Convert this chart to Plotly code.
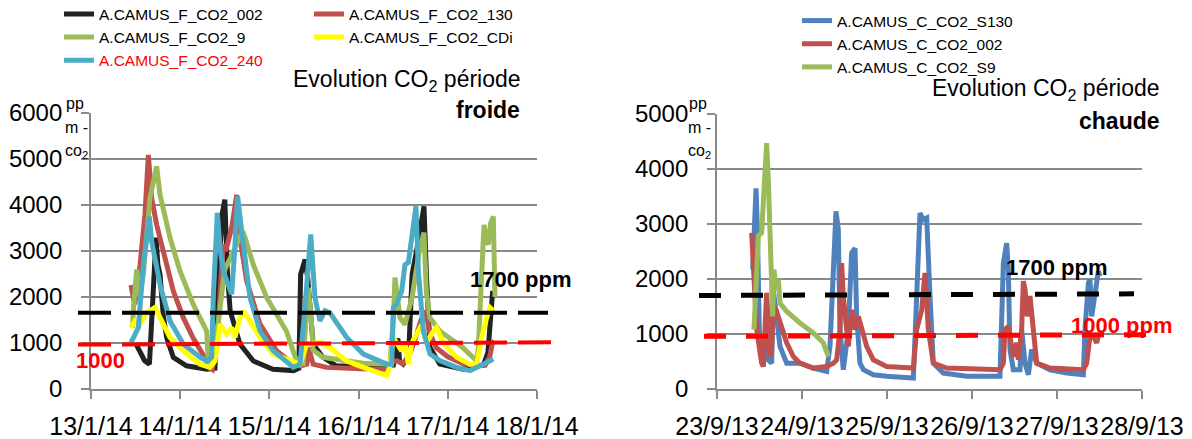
import plotly.graph_objects as go

W, H = 1192, 439
FONT = "Liberation Sans, Arial, sans-serif"
GRID = "#898989"

# ---------------- Cold period (x = days since 13/1/14) ----------------
cold_ticklabels = ["13/1/14", "14/1/14", "15/1/14", "16/1/14", "17/1/14", "18/1/14"]
cold_y_ticks = [0, 1000, 2000, 3000, 4000, 5000, 6000]

f002_t = [0.505, 0.55, 0.60, 0.655, 0.68, 0.705, 0.729, 0.75, 0.774, 0.81, 0.848, 0.923, 1.07, 1.30,
          1.39, 1.43, 1.47, 1.50, 1.53, 1.56, 1.60, 1.67, 1.82, 2.04, 2.27, 2.33, 2.35, 2.38, 2.40,
          2.43, 2.49, 2.60, 2.75, 2.87, 3.05, 3.30, 3.39, 3.42, 3.44, 3.46, 3.50, 3.56, 3.60, 3.65,
          3.70, 3.733, 3.76, 3.80, 3.91, 4.17, 4.32, 4.40, 4.45, 4.48, 4.503, 4.51]
f002_v = [975, 800, 620, 540, 1500, 2900, 3290, 2700, 2490, 1600, 1120, 690, 505, 430,
          450, 2500, 3800, 4115, 2500, 1700, 1400, 975, 610, 430, 400, 450, 2490, 2700, 2815,
          2400, 975, 690, 505, 500, 500, 500, 520, 900, 1100, 600, 540, 700, 2500, 3000,
          3600, 3970, 2500, 900, 540, 430, 505, 520, 800, 1600, 2130, 2000]

f130_t = [0.448, 0.49, 0.55, 0.605, 0.643, 0.68, 0.736, 0.811, 0.923, 1.035, 1.147, 1.297, 1.33,
          1.36, 1.43, 1.47, 1.484, 1.51, 1.577, 1.633, 1.67, 1.745, 1.895, 2.08, 2.268, 2.343,
          2.42, 2.44, 2.49, 2.64, 2.87, 3.02, 3.30, 3.39, 3.43, 3.50, 3.58, 3.62, 3.70, 3.75,
          3.80, 3.87, 4.0, 4.17, 4.32, 4.42, 4.47, 4.50, 4.52]
f130_v = [2260, 1840, 2700, 3800, 5090, 4150, 3570, 3000, 2130, 1550, 1100, 610, 450,
          420, 1500, 2800, 3140, 3000, 3500, 4220, 3290, 2350, 1410, 830, 540, 500,
          540, 900, 540, 470, 440, 440, 430, 600, 610, 550, 800, 1000, 1500, 1700,
          1200, 900, 700, 550, 500, 520, 700, 1000, 1050]

f9_t = [0.466, 0.474, 0.512, 0.549, 0.587, 0.661, 0.736, 0.774, 0.886, 0.998, 1.147, 1.297, 1.315,
        1.36, 1.43, 1.50, 1.60, 1.70, 1.726, 1.82, 1.97, 2.19, 2.306, 2.38, 2.418, 2.436, 2.47,
        2.49, 2.60, 2.87, 3.05, 3.35, 3.389, 3.408, 3.44, 3.464, 3.52, 3.60, 3.68, 3.733, 3.76,
        3.80, 3.91, 4.17, 4.324, 4.342, 4.38, 4.406, 4.436, 4.454, 4.48, 4.51, 4.529]
f9_v = [1335, 1700, 2600, 2000, 2500, 4150, 4840, 4220, 3285, 2560, 1840, 1260, 610,
        560, 1500, 2600, 3000, 3430, 3300, 2700, 1985, 1260, 600, 560, 1800, 2200, 1500,
        850, 690, 620, 560, 540, 1500, 2420, 1800, 1550, 1400, 2000, 3000, 3400, 2100,
        1550, 1260, 900, 610, 900, 2500, 3570, 3200, 3140, 3600, 3750, 2000]

fcdi_t = [0.448, 0.493, 0.549, 0.624, 0.717, 0.774, 0.886, 1.035, 1.222, 1.334, 1.39, 1.446, 1.521,
          1.577, 1.614, 1.67, 1.708, 1.745, 1.82, 1.895, 2.044, 2.268, 2.343, 2.418, 2.567, 2.679,
          2.866, 3.053, 3.315, 3.352, 3.389, 3.427, 3.483, 3.52, 3.558, 3.595, 3.67, 3.707, 3.763,
          3.819, 3.875, 3.95, 4.099, 4.249, 4.324, 4.38, 4.436, 4.473, 4.51]
fcdi_v = [1335, 1480, 1410, 1660, 1770, 1550, 1120, 830, 540, 470, 610, 1410, 1190,
          1335, 1120, 1550, 1700, 1590, 1335, 1120, 760, 580, 540, 975, 1010, 900,
          610, 470, 290, 500, 1120, 1000, 830, 1000, 540, 1000, 1260, 1400, 1000,
          1200, 1335, 1000, 690, 540, 540, 1120, 1550, 1770, 1700]

f240_t = [0.448, 0.531, 0.587, 0.654, 0.68, 0.774, 0.886, 1.035, 1.222, 1.297, 1.353, 1.371, 1.416,
          1.45, 1.484, 1.577, 1.61, 1.644, 1.689, 1.783, 1.895, 2.044, 2.268, 2.343, 2.40, 2.436,
          2.463, 2.511, 2.567, 2.623, 2.68, 2.866, 3.053, 3.315, 3.371, 3.389, 3.427, 3.483, 3.52,
          3.558, 3.60, 3.643, 3.67, 3.726, 3.80, 3.91, 4.099, 4.249, 4.398, 4.51]
f240_v = [1010, 1335, 2700, 3750, 3210, 2270, 1480, 975, 690, 610, 690, 2000, 3830,
          3000, 2560, 2060, 3000, 4190, 3430, 1985, 1260, 830, 470, 540, 1800, 2780,
          3360, 1985, 1480, 1700, 1650, 1120, 760, 540, 540, 1770, 1850, 2130, 2700,
          2750, 3400, 3970, 2560, 1260, 760, 620, 470, 400, 540, 650]

# ---------------- Warm period (x = days since 23/9/13) ----------------
warm_ticklabels = ["23/9/13", "24/9/13", "25/9/13", "26/9/13", "27/9/13", "28/9/13"]
warm_y_ticks = [0, 1000, 2000, 3000, 4000, 5000]

cs130_t = [0.420, 0.459, 0.475, 0.498, 0.545, 0.584, 0.604, 0.643, 0.663, 0.702, 0.741, 0.820,
           0.898, 0.976, 1.133, 1.290, 1.329, 1.369, 1.400, 1.427, 1.447, 1.486, 1.545, 1.584,
           1.624, 1.643, 1.682, 1.722, 1.839, 1.996, 2.310, 2.349, 2.388, 2.427, 2.467, 2.506,
           2.545, 2.663, 2.937, 3.329, 3.369, 3.408, 3.427, 3.447, 3.486, 3.565, 3.584, 3.624,
           3.663, 3.702, 3.761, 3.918, 4.114, 4.310, 4.329, 4.369, 4.388, 4.408, 4.447, 4.486, 4.506]
cs130_v = [2170, 3650, 2900, 1080, 410, 1080, 530, 470, 1800, 1320, 775, 470,
           470, 470, 380, 320, 775, 2290, 3230, 2900, 1080, 350, 1080, 2470,
           2560, 1320, 470, 350, 260, 230, 200, 1680, 3200, 3080, 3110, 1680,
           470, 290, 230, 230, 2290, 2650, 2170, 715, 350, 350, 1080, 470,
           260, 715, 470, 350, 290, 260, 1080, 1930, 1990, 1320, 1810, 2140, 2050]

c002_t = [0.408, 0.427, 0.467, 0.525, 0.545, 0.584, 0.604, 0.623, 0.643, 0.663, 0.694, 0.741,
          0.820, 0.898, 0.976, 1.133, 1.290, 1.369, 1.408, 1.447, 1.466, 1.486, 1.525, 1.545,
          1.584, 1.624, 1.663, 1.702, 1.761, 1.839, 1.996, 2.310, 2.349, 2.408, 2.447, 2.486,
          2.545, 2.702, 3.329, 3.369, 3.388, 3.427, 3.486, 3.525, 3.545, 3.584, 3.604, 3.624,
          3.651, 3.682, 3.761, 3.918, 4.310, 4.349, 4.388, 4.427, 4.467, 4.486]
c002_v = [2840, 2170, 1080, 470, 410, 1750, 1080, 590, 775, 1500, 1440, 1200,
          840, 590, 470, 380, 410, 470, 530, 1080, 2290, 1680, 960, 775,
          1440, 1080, 1320, 1080, 775, 530, 410, 380, 1080, 1440, 2110, 1080,
          470, 380, 350, 470, 1080, 1140, 590, 840, 530, 1080, 1960, 1810,
          1320, 1690, 470, 380, 350, 470, 960, 960, 840, 960]

cs9_t = [0.435, 0.486, 0.525, 0.565, 0.584, 0.604, 0.631, 0.655, 0.671, 0.694, 0.722, 0.741,
         0.820, 0.976, 1.133, 1.251, 1.310]
cs9_v = [1080, 2780, 2840, 4110, 4470, 3800, 2170, 1320, 2170, 1800, 1990, 1560,
         1410, 1200, 1020, 840, 590]

# reference thresholds (ppm) as drawn (slightly tilted in the original)
cold_ref_1700 = [1660, 1660]
cold_ref_1000 = [965, 1015]
warm_ref_1700 = [1700, 1730]
warm_ref_1000 = [957, 988]

fig = go.Figure()


def add(t, v, name, color, xa, ya, legend, group=None):
    fig.add_trace(go.Scatter(
        x=t, y=v, mode="lines", name=name,
        line=dict(color=color, width=5),
        xaxis=xa, yaxis=ya, legend=legend, legendgroup=group,
    ))


add(f002_t, f002_v, "A.CAMUS_F_CO2_002", "#222222", "x", "y", "legend", "g1")
add(f130_t, f130_v, "A.CAMUS_F_CO2_130", "#C0504D", "x", "y", "legend", "g2")
add(f9_t, f9_v, "A.CAMUS_F_CO2_9", "#9BBB59", "x", "y", "legend", "g1")
add(fcdi_t, fcdi_v, "A.CAMUS_F_CO2_CDi", "#FFFF00", "x", "y", "legend", "g2")
add(f240_t, f240_v, '<span style="color:#FF0000">A.CAMUS_F_CO2_240</span>', "#4BACC6",
    "x", "y", "legend", "g1")

add(cs130_t, cs130_v, "A.CAMUS_C_CO2_S130", "#4F81BD", "x2", "y2", "legend2")
add(c002_t, c002_v, "A.CAMUS_C_CO2_002", "#C0504D", "x2", "y2", "legend2")
add(cs9_t, cs9_v, "A.CAMUS_C_CO2_S9", "#9BBB59", "x2", "y2", "legend2")


def px_x(p):
    return p / W


def px_y(p):
    return 1 - p / H


axis_common = dict(
    showline=True, linecolor=GRID, linewidth=1.8,
    ticks="outside", ticklen=8, tickcolor=GRID, tickwidth=1.8,
    zeroline=False, fixedrange=True, automargin=False,
)
xfont = dict(family=FONT, size=25, color="#000000")
yfont = dict(family=FONT, size=24, color="#000000")
legfont = dict(family=FONT, size=15.5, color="#000000")

fig.update_layout(
    width=W, height=H,
    margin=dict(l=0, r=0, t=0, b=0, pad=0, autoexpand=False),
    paper_bgcolor="white", plot_bgcolor="white",
    font=dict(family=FONT, color="#000000"),
    showlegend=True,
    xaxis=dict(domain=[px_x(91), px_x(537)], range=[0, 5], anchor="y",
               tickvals=list(range(len(cold_ticklabels))), ticktext=cold_ticklabels,
               tickangle=0, showgrid=False, ticklabelstandoff=6, tickfont=xfont,
               **axis_common),
    yaxis=dict(domain=[px_y(389), px_y(113)], range=[0, cold_y_ticks[-1]], anchor="x",
               tickvals=cold_y_ticks, ticktext=[str(v) for v in cold_y_ticks],
               showgrid=True, gridcolor=GRID, gridwidth=1.8, ticklabelstandoff=14,
               tickfont=yfont, **axis_common),
    xaxis2=dict(domain=[px_x(717), px_x(1142)], range=[0, 5], anchor="y2",
                tickvals=list(range(len(warm_ticklabels))), ticktext=warm_ticklabels,
                tickangle=0, showgrid=False, ticklabelstandoff=6, tickfont=xfont,
                **axis_common),
    yaxis2=dict(domain=[px_y(389), px_y(114)], range=[0, warm_y_ticks[-1]], anchor="x2",
                tickvals=warm_y_ticks, ticktext=[str(v) for v in warm_y_ticks],
                showgrid=True, gridcolor=GRID, gridwidth=1.8, ticklabelstandoff=14,
                tickfont=yfont, **axis_common),
    legend=dict(orientation="h", traceorder="grouped", x=px_x(59), y=1.006,
                xanchor="left", yanchor="top", entrywidth=205, entrywidthmode="pixels",
                font=legfont, bgcolor="rgba(0,0,0,0)", tracegroupgap=0),
    legend2=dict(orientation="v", x=px_x(797), y=px_y(4), xanchor="left", yanchor="top",
                 font=legfont, bgcolor="rgba(0,0,0,0)", tracegroupgap=0),
)

# dashed threshold lines
fig.add_shape(type="line", xref="paper", yref="y", x0=px_x(78), x1=px_x(548),
              y0=cold_ref_1700[0], y1=cold_ref_1700[1],
              line=dict(color="#000000", width=4, dash="33px,11px"))
fig.add_shape(type="line", xref="paper", yref="y", x0=px_x(78), x1=px_x(552),
              y0=cold_ref_1000[0], y1=cold_ref_1000[1],
              line=dict(color="#FF0000", width=4, dash="33px,11px"))
fig.add_shape(type="line", xref="paper", yref="y2", x0=px_x(699), x1=px_x(1134),
              y0=warm_ref_1700[0], y1=warm_ref_1700[1],
              line=dict(color="#000000", width=5, dash="22px,20px"))
fig.add_shape(type="line", xref="paper", yref="y2", x0=px_x(704), x1=px_x(1149),
              y0=warm_ref_1000[0], y1=warm_ref_1000[1],
              line=dict(color="#FF0000", width=5, dash="22px,20px"))


def note(text, x, y, size, anchor="center", color="#000000", bold=False):
    fig.add_annotation(
        text=f"<b>{text}</b>" if bold else text,
        xref="paper", yref="paper", x=px_x(x), y=px_y(y),
        xanchor=anchor, yanchor="middle", showarrow=False,
        font=dict(family=FONT, size=size, color=color),
    )


# titles
note("Evolution CO<sub>2</sub> période", 523, 80, 23, anchor="right")
note("froide", 522, 110, 23, anchor="right", bold=True)
note("Evolution CO<sub>2</sub> période", 1162, 89, 23, anchor="right")
note("chaude", 1162, 121, 23, anchor="right", bold=True)

# threshold labels
note("1700 ppm", 521, 279, 22, bold=True)
note("1000", 100, 360, 22, color="#FF0000", bold=True)
note("1700 ppm", 1057, 267, 22, bold=True)
note("1000 ppm", 1122, 325, 22, color="#FF0000", bold=True)

# y-axis unit (wrapped "ppm - CO2")
for cx in (75, 698):
    note("pp", cx, 103, 16)
    note("m -", cx + 1, 127, 16)
    note("co<sub>2</sub>", cx + 1, 151, 16)

fig.write_html("out.html")
